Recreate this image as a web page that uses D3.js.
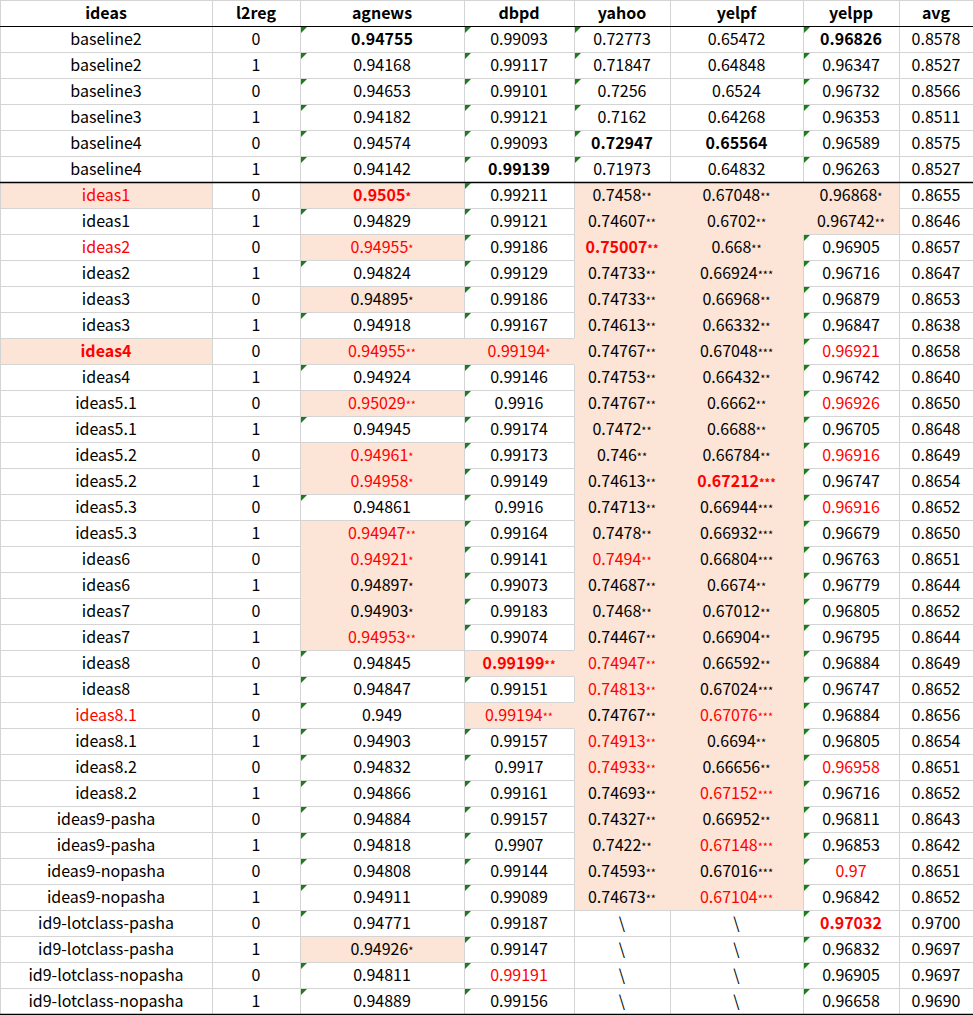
<!DOCTYPE html>
<html><head><meta charset="utf-8">
<script src="https://cdn.jsdelivr.net/npm/d3@7"></script>
<style>body{margin:0;background:#fff}</style>
</head><body>
<script>
const headers = ["ideas","l2reg","agnews","dbpd","yahoo","yelpf","yelpp","avg"];
const ideas = ["baseline2","baseline2","baseline3","baseline3","baseline4","baseline4","ideas1","ideas1","ideas2","ideas2","ideas3","ideas3","ideas4","ideas4","ideas5.1","ideas5.1","ideas5.2","ideas5.2","ideas5.3","ideas5.3","ideas6","ideas6","ideas7","ideas7","ideas8","ideas8","ideas8.1","ideas8.1","ideas8.2","ideas8.2","ideas9-pasha","ideas9-pasha","ideas9-nopasha","ideas9-nopasha","id9-lotclass-pasha","id9-lotclass-pasha","id9-lotclass-nopasha","id9-lotclass-nopasha"];
const l2reg = ["0","1","0","1","0","1","0","1","0","1","0","1","0","1","0","1","0","1","0","1","0","1","0","1","0","1","0","1","0","1","0","1","0","1","0","1","0","1"];
const agnews = ["0.94755","0.94168","0.94653","0.94182","0.94574","0.94142","0.9505*","0.94829","0.94955*","0.94824","0.94895*","0.94918","0.94955**","0.94924","0.95029**","0.94945","0.94961*","0.94958*","0.94861","0.94947**","0.94921*","0.94897*","0.94903*","0.94953**","0.94845","0.94847","0.949","0.94903","0.94832","0.94866","0.94884","0.94818","0.94808","0.94911","0.94771","0.94926*","0.94811","0.94889"];
const dbpd = ["0.99093","0.99117","0.99101","0.99121","0.99093","0.99139","0.99211","0.99121","0.99186","0.99129","0.99186","0.99167","0.99194*","0.99146","0.9916","0.99174","0.99173","0.99149","0.9916","0.99164","0.99141","0.99073","0.99183","0.99074","0.99199**","0.99151","0.99194**","0.99157","0.9917","0.99161","0.99157","0.9907","0.99144","0.99089","0.99187","0.99147","0.99191","0.99156"];
const yahoo = ["0.72773","0.71847","0.7256","0.7162","0.72947","0.71973","0.7458**","0.74607**","0.75007**","0.74733**","0.74733**","0.74613**","0.74767**","0.74753**","0.74767**","0.7472**","0.746**","0.74613**","0.74713**","0.7478**","0.7494**","0.74687**","0.7468**","0.74467**","0.74947**","0.74813**","0.74767**","0.74913**","0.74933**","0.74693**","0.74327**","0.7422**","0.74593**","0.74673**","\\","\\","\\","\\"];
const yelpf = ["0.65472","0.64848","0.6524","0.64268","0.65564","0.64832","0.67048**","0.6702**","0.668**","0.66924***","0.66968**","0.66332**","0.67048***","0.66432**","0.6662**","0.6688**","0.66784**","0.67212***","0.66944***","0.66932***","0.66804***","0.6674**","0.67012**","0.66904**","0.66592**","0.67024***","0.67076***","0.6694**","0.66656**","0.67152***","0.66952**","0.67148***","0.67016***","0.67104***","\\","\\","\\","\\"];
const yelpp = ["0.96826","0.96347","0.96732","0.96353","0.96589","0.96263","0.96868*","0.96742**","0.96905","0.96716","0.96879","0.96847","0.96921","0.96742","0.96926","0.96705","0.96916","0.96747","0.96916","0.96679","0.96763","0.96779","0.96805","0.96795","0.96884","0.96747","0.96884","0.96805","0.96958","0.96716","0.96811","0.96853","0.97","0.96842","0.97032","0.96832","0.96905","0.96658"];
const avg = ["0.8578","0.8527","0.8566","0.8511","0.8575","0.8527","0.8655","0.8646","0.8657","0.8647","0.8653","0.8638","0.8658","0.8640","0.8650","0.8648","0.8649","0.8654","0.8652","0.8650","0.8651","0.8644","0.8652","0.8644","0.8649","0.8652","0.8656","0.8654","0.8651","0.8652","0.8643","0.8642","0.8651","0.8652","0.9700","0.9697","0.9697","0.9690"];
// style codes per cell: h = highlight, r = red, b = bold
const st = {
 0: {6:"hr",8:"r",12:"hrb",26:"r"},
 2: {0:"b",6:"hrb",8:"hr",10:"h",12:"hr",14:"hr",16:"hr",17:"hr",19:"hr",20:"hr",21:"h",22:"h",23:"hr",35:"h"},
 3: {5:"b",12:"hr",24:"hrb",26:"hr",36:"r"},
 4: {4:"b",8:"rb",20:"r",24:"r",25:"r",27:"r",28:"r"},
 5: {4:"b",17:"rb",26:"r",29:"r",31:"r",33:"r"},
 6: {0:"b",6:"h",7:"h",12:"r",14:"r",16:"r",18:"r",28:"r",32:"r",34:"rb"}
};
// yahoo & yelpf highlighted for ideas rows 6..33
for (let i=6;i<=33;i++){ for (const c of [4,5]) st[c][i]=(st[c][i]||"")+"h"; }
const cols = [ideas,l2reg,agnews,dbpd,yahoo,yelpf,yelpp,avg];
const edges = [0,212,300,464,574,670,803,899,973];
const triCols = [2,3,4,6];

const W=973,H=1015,RH=26;
const svg=d3.select("body").append("svg").attr("width",W).attr("height",H);
const y=d3.scaleBand().domain(d3.range(ideas.length+1)).range([0,RH*(ideas.length+1)]);
const code=(c,r)=> r<0?"":((st[c]&&st[c][r])||"");
// grid lines
const g=svg.append("g");
for(let r=0;r<=ideas.length+1;r++){
  g.append("line").attr("x1",0).attr("x2",W).attr("y1",r*RH+0.5).attr("y2",r*RH+0.5).attr("stroke","#d4d4d4");
}
edges.forEach(x=>g.append("line").attr("x1",x+0.5).attr("x2",x+0.5).attr("y1",0).attr("y2",H).attr("stroke","#d4d4d4"));
// highlight fills (covering grid)
cols.forEach((arr,c)=>{
  arr.forEach((v,r)=>{
    if(code(c,r).includes("h")){
      const hl=(cc,rr)=>rr>=0&&rr<arr.length&&code(cc,rr).includes("h");
      const x0=edges[c]+(hl(c-1,r)?0:1), x1=edges[c+1]+(hl(c+1,r)?1:0);
      const y0=y(r+1)+(hl(c,r-1)?0:1), y1=y(r+1)+RH+(hl(c,r+1)?1:0);
      svg.append("rect").attr("x",x0).attr("y",y0).attr("width",x1-x0).attr("height",y1-y0).attr("fill","#fce4d6");
    }
  });
});
// header/separator lines
[[RH,1],[RH*7,1.5],[RH*39,1.5]].forEach(([yy,w])=>svg.append("line").attr("x1",0).attr("x2",W).attr("y1",yy+0.5).attr("y2",yy+0.5).attr("stroke","#000").attr("stroke-width",w));
// triangles
triCols.forEach(c=>cols[c].forEach((v,r)=>{
  if(code(c,r).includes("h")||v==="\\") return;
  const x=edges[c]+1, yy=y(r+1)+1;
  svg.append("path").attr("d",`M${x},${yy}L${x+6},${yy}L${x},${yy+6}Z`).attr("fill","#1a7f1a");
}));
const font="'Noto Sans CJK SC','Noto Sans',sans-serif";
// header text
headers.forEach((h,c)=>svg.append("text").attr("x",(edges[c]+edges[c+1])/2).attr("y",y(0)+RH/2).attr("dy","0.36em")
  .attr("text-anchor","middle").attr("font-family",font).attr("font-size",16).attr("font-weight","bold").text(h));
// cells
cols.forEach((arr,c)=>arr.forEach((v,r)=>{
  const cd=code(c,r);
  const m=v.match(/^([^*]*)(\**)$/);
  const t=svg.append("text").attr("x",(edges[c]+edges[c+1])/2).attr("y",y(r+1)+RH/2).attr("dy","0.36em")
    .attr("text-anchor","middle").attr("font-family",font).attr("font-size",16)
    .attr("fill",cd.includes("r")?"#ff0000":"#000").attr("font-weight",cd.includes("b")?"bold":"normal");
  t.append("tspan").text(m[1]);
  if(m[2]) t.append("tspan").attr("font-size",11).text(m[2]);
}));
</script>
</body></html>
